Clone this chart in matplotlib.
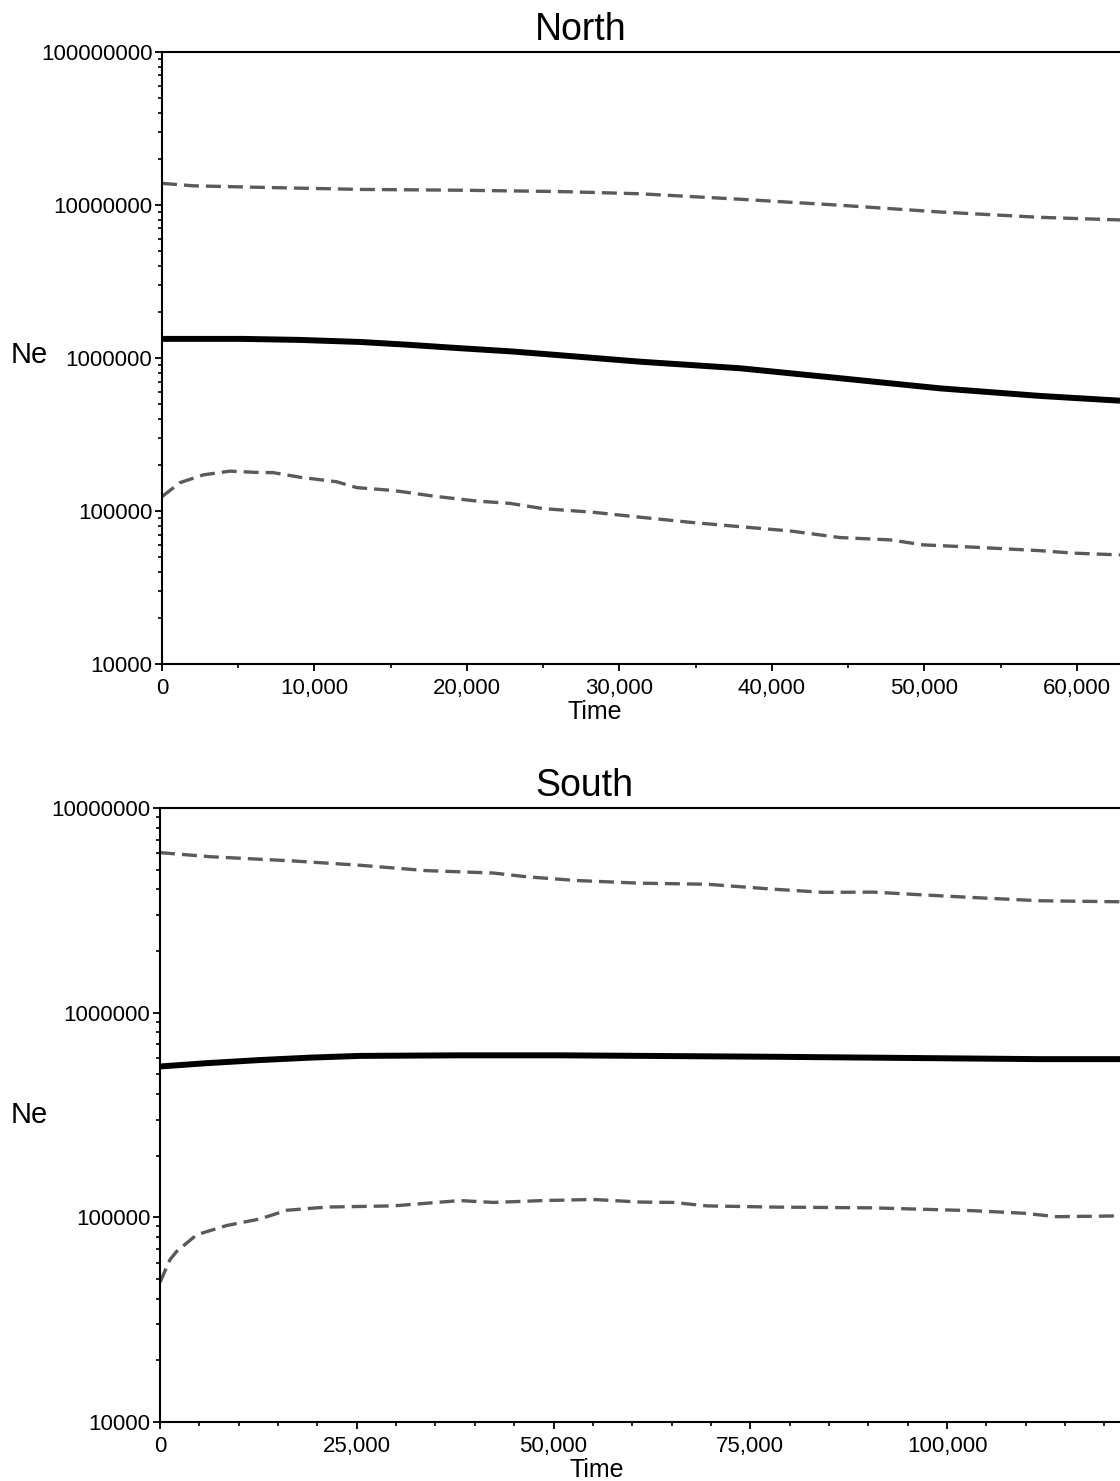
import matplotlib
matplotlib.use("Agg")
import matplotlib.pyplot as plt
from matplotlib.ticker import FixedLocator, FuncFormatter, LogLocator, NullFormatter, MultipleLocator

plt.rcParams['font.family'] = ['Liberation Sans', 'DejaVu Sans']

# ---------------- data ----------------
north_up_t = [0, 2050, 6430, 12980, 19540, 26100, 31340, 37900, 44460, 51020, 57570, 62820]
north_up_v = [1.38e7, 1.33e7, 1.30e7, 1.26e7, 1.245e7, 1.22e7, 1.18e7, 1.087e7, 9.93e6, 8.97e6, 8.28e6, 7.96e6]

north_med_t = [0, 5310, 9000, 12980, 16000, 19540, 23000, 26100, 31340, 37900, 44460, 51020, 57570, 62820]
north_med_v = [1.33e6, 1.33e6, 1.31e6, 1.27e6, 1.22e6, 1.156e6, 1.10e6, 1.04e6, 9.44e5, 8.55e5, 7.36e5,
               6.32e5, 5.64e5, 5.25e5]

north_lo_t = [0, 1180, 2710, 4460, 6430, 7280, 9050, 11460, 12770, 15170, 17790, 20630, 22820,
              25000, 28280, 31340, 34620, 37900, 41180, 44460, 47740, 49920, 53200, 57570, 59750, 62820]
north_lo_v = [1.24e5, 1.53e5, 1.72e5, 1.82e5, 1.78e5, 1.78e5, 1.66e5, 1.55e5, 1.42e5, 1.36e5, 1.25e5,
              1.16e5, 1.12e5, 1.035e5, 9.8e4, 9.1e4, 8.43e4, 7.89e4, 7.4e4, 6.7e4, 6.47e4, 6.0e4,
              5.8e4, 5.5e4, 5.3e4, 5.16e4]

south_up_t = [0, 6350, 16940, 25410, 33890, 42350, 46590, 52950, 60990, 69470, 77930, 84280,
              90640, 96990, 103340, 111810, 121980]
south_up_v = [6.05e6, 5.78e6, 5.51e6, 5.25e6, 4.94e6, 4.81e6, 4.61e6, 4.42e6, 4.29e6, 4.24e6,
              4.01e6, 3.87e6, 3.88e6, 3.76e6, 3.65e6, 3.52e6, 3.48e6]

south_med_t = [0, 6000, 12710, 19000, 25410, 38120, 50830, 77930, 94880, 111810, 121980]
south_med_v = [5.45e5, 5.66e5, 5.86e5, 6.02e5, 6.14e5, 6.18e5, 6.18e5, 6.08e5, 6.0e5, 5.92e5, 5.92e5]

south_lo_t = [0, 1270, 2120, 4660, 8470, 12710, 16100, 21180, 29650, 38120, 42350, 48700, 55060,
              60990, 65230, 69470, 77930, 90640, 103340, 109700, 113930, 121980]
south_lo_v = [4.8e4, 6.2e4, 6.8e4, 8.2e4, 9.1e4, 9.8e4, 1.08e5, 1.12e5, 1.135e5, 1.205e5, 1.18e5,
              1.205e5, 1.22e5, 1.185e5, 1.18e5, 1.135e5, 1.12e5, 1.11e5, 1.075e5, 1.045e5,
              1.005e5, 1.014e5]

north_xticks = [0, 10000, 20000, 30000, 40000, 50000, 60000]
south_xticks = [0, 25000, 50000, 75000, 100000, 125000]

W, H = 1120, 1481
fig = plt.figure(figsize=(W / 100, H / 100), dpi=100)

DASH_COL = '#5a5a5a'


def style_axes(ax, ylim, yticks, xticks, xmax, minor_x):
    ax.set_yscale('log')
    ax.set_ylim(*ylim)
    ax.set_xlim(0, xmax)
    ax.spines['right'].set_visible(False)
    for s in ('left', 'top', 'bottom'):
        ax.spines[s].set_linewidth(1.5)
        ax.spines[s].set_color('black')
    ax.yaxis.set_major_locator(FixedLocator(yticks))
    ax.yaxis.set_major_formatter(FuncFormatter(lambda v, p: f"{int(round(v))}"))
    ax.yaxis.set_minor_locator(LogLocator(base=10, subs=range(2, 10)))
    ax.yaxis.set_minor_formatter(NullFormatter())
    ax.xaxis.set_major_locator(FixedLocator(xticks))
    ax.xaxis.set_major_formatter(FuncFormatter(lambda v, p: f"{int(v):,}"))
    ax.xaxis.set_minor_locator(MultipleLocator(minor_x))
    ax.tick_params(axis='both', which='major', direction='out', length=5, width=1.3,
                   labelsize=16, colors='black')
    ax.tick_params(axis='both', which='minor', direction='out', length=2.6, width=1.2)
    ax.tick_params(axis='y', which='major', pad=2)
    ax.tick_params(axis='x', which='major', pad=5)
    ax.tick_params(top=False, right=False, which='both')


# North axes
axN = fig.add_axes([162 / W, 1 - 664 / H, 1 - 162 / W, (664 - 51.7) / H])
axN.plot(north_up_t, north_up_v, color=DASH_COL, lw=2.4, dashes=(4.5, 2.1))
axN.plot(north_lo_t, north_lo_v, color=DASH_COL, lw=2.4, dashes=(4.5, 2.1))
axN.plot(north_med_t, north_med_v, color='black', lw=4.3, solid_capstyle='butt')
style_axes(axN, (1e4, 1e8), [1e4, 1e5, 1e6, 1e7, 1e8], north_xticks, 62820, 5000)

# South axes
axS = fig.add_axes([160 / W, 1 - 1421.7 / H, 1 - 160 / W, (1421.7 - 808) / H])
axS.plot(south_up_t, south_up_v, color=DASH_COL, lw=2.4, dashes=(4.5, 2.1))
axS.plot(south_lo_t, south_lo_v, color=DASH_COL, lw=2.4, dashes=(4.5, 2.1))
axS.plot(south_med_t, south_med_v, color='black', lw=4.3, solid_capstyle='butt')
style_axes(axS, (1e4, 1e7), [1e4, 1e5, 1e6, 1e7], south_xticks, 121980, 5000)

# Titles and labels
fig.text(581 / W, 1 - 30 / H, "North", ha='center', va='center', fontsize=27)
fig.text(584 / W, 1 - 786 / H, "South", ha='center', va='center', fontsize=27)
fig.text(29 / W, 1 - 355 / H, "Ne", ha='center', va='center', fontsize=21)
fig.text(29 / W, 1 - 1115 / H, "Ne", ha='center', va='center', fontsize=21)
fig.text(595 / W, 1 - 712 / H, "Time", ha='center', va='center', fontsize=18)
fig.text(597 / W, 1 - 1470 / H, "Time", ha='center', va='center', fontsize=18)

fig.savefig("out.png", dpi=100, facecolor='white')
